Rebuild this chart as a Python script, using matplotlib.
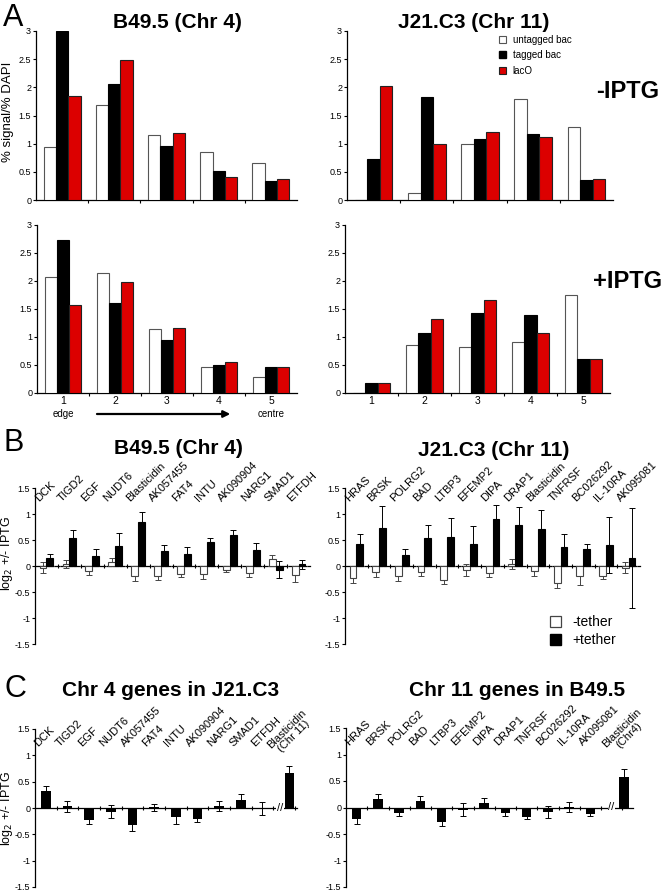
import numpy as np
import matplotlib
matplotlib.use('Agg')
import matplotlib.pyplot as plt
from matplotlib.patches import Patch

plt.rcParams['font.family'] = ['Liberation Sans', 'DejaVu Sans']

W, H = 662, 891

# ---- Panel A: % signal / % DAPI per radial zone ----
zones = ['1', '2', '3', '4', '5']
series_names = ['untagged bac', 'tagged bac', 'lacO']

b49_minus_untagged = [0.94, 1.68, 1.15, 0.86, 0.66]
b49_minus_tagged = [3.0, 2.06, 0.95, 0.51, 0.33]
b49_minus_laco = [1.85, 2.49, 1.19, 0.41, 0.37]

j21_minus_untagged = [0.0, 0.12, 1.00, 1.80, 1.29]
j21_minus_tagged = [0.72, 1.82, 1.08, 1.18, 0.35]
j21_minus_laco = [2.03, 0.99, 1.20, 1.12, 0.37]

b49_plus_untagged = [2.07, 2.15, 1.14, 0.46, 0.29]
b49_plus_tagged = [2.73, 1.60, 0.95, 0.50, 0.46]
b49_plus_laco = [1.57, 1.98, 1.16, 0.55, 0.46]

j21_plus_untagged = [0.0, 0.85, 0.83, 0.91, 1.75]
j21_plus_tagged = [0.17, 1.07, 1.43, 1.39, 0.60]
j21_plus_laco = [0.18, 1.33, 1.66, 1.07, 0.61]

# ---- Panel B: log2 +/- IPTG, -tether / +tether ----
b49_genes = ['DCK', 'TIGD2', 'EGF', 'NUDT6', 'Blasticidin', 'AK057455', 'FAT4',
             'INTU', 'AK090904', 'NARG1', 'SMAD1', 'ETFDH']
b49_no_tether = [-0.03, 0.04, -0.10, 0.08, -0.19, -0.20, -0.16, -0.15, -0.08, -0.13, 0.14, -0.18]
b49_no_tether_err = [0.10, 0.08, 0.08, 0.08, 0.10, 0.07, 0.06, 0.10, 0.04, 0.08, 0.08, 0.13]
b49_tether = [0.15, 0.54, 0.19, 0.39, 0.85, 0.29, 0.24, 0.47, 0.59, 0.30, -0.07, 0.03]
b49_tether_err = [0.09, 0.16, 0.13, 0.24, 0.19, 0.12, 0.13, 0.06, 0.10, 0.14, 0.17, 0.09]

j21_genes = ['HRAS', 'BRSK', 'POLRG2', 'BAD', 'LTBP3', 'EFEMP2', 'DIPA', 'DRAP1',
             'Blasticidin', 'TNFRSF', 'BC026292', 'IL-10RA', 'AK095081']
j21_no_tether = [-0.24, -0.11, -0.19, -0.12, -0.27, -0.08, -0.14, 0.04, -0.10, -0.32, -0.19, -0.19, -0.03]
j21_no_tether_err = [0.08, 0.11, 0.10, 0.08, 0.08, 0.12, 0.08, 0.10, 0.09, 0.11, 0.18, 0.06, 0.11]
j21_tether = [0.43, 0.73, 0.21, 0.54, 0.56, 0.42, 0.91, 0.79, 0.71, 0.37, 0.33, 0.40, 0.15]
j21_tether_err = [0.18, 0.42, 0.12, 0.24, 0.37, 0.34, 0.26, 0.35, 0.37, 0.24, 0.09, 0.54, 0.96]

# ---- Panel C: genes moved to the other cell line ----
chr4_genes = ['DCK', 'TIGD2', 'EGF', 'NUDT6', 'AK057455', 'FAT4', 'INTU',
              'AK090904', 'NARG1', 'SMAD1', 'ETFDH']
chr4_in_j21 = [0.32, 0.03, -0.22, -0.07, -0.32, 0.01, -0.17, -0.20, 0.04, 0.16, -0.01]
chr4_in_j21_err = [0.09, 0.10, 0.08, 0.12, 0.11, 0.07, 0.13, 0.07, 0.10, 0.11, 0.13]
chr4_blast_label = 'Blasticidin\n(Chr 11)'
chr4_blast = 0.66
chr4_blast_err = 0.14

chr11_genes = ['HRAS', 'BRSK', 'POLRG2', 'BAD', 'LTBP3', 'EFEMP2', 'DIPA', 'DRAP1',
               'TNFRSF', 'BC026292', 'IL-10RA', 'AK095081']
chr11_in_b49 = [-0.22, 0.16, -0.10, 0.12, -0.28, -0.04, 0.08, -0.10, -0.17, -0.08, 0.01, -0.13]
chr11_in_b49_err = [0.09, 0.09, 0.06, 0.09, 0.06, 0.12, 0.09, 0.06, 0.05, 0.11, 0.10, 0.03]
chr11_blast_label = 'Blasticidin\n(Chr4)'
chr11_blast = 0.58
chr11_blast_err = 0.14

RED = '#dc0000'
TICK_FS = 6.5
TITLE_FS = 15
GENE_FS = 8


def px_axes(fig, x0, y0, x1, y1):
    """Add axes from pixel box (top-left origin)."""
    return fig.add_axes([x0 / W, 1 - y1 / H, (x1 - x0) / W, (y1 - y0) / H])


def style_axes(ax):
    for side in ('top', 'right'):
        ax.spines[side].set_visible(False)
    for side in ('left', 'bottom'):
        ax.spines[side].set_linewidth(0.9)
    ax.tick_params(labelsize=TICK_FS, length=2.5, width=0.8, pad=1.0)


def plot_zone_bars(ax, untagged, tagged, laco, xlabels=False):
    x = np.arange(1, len(zones) + 1)
    w = 0.235
    ax.bar(x - w, untagged, w, color='white', edgecolor='#555555', linewidth=0.8, zorder=3)
    ax.bar(x, tagged, w, color='black', edgecolor='black', linewidth=0.8, zorder=3)
    ax.bar(x + w, laco, w, color=RED, edgecolor='#222222', linewidth=0.8, zorder=3)
    ax.set_xlim(0.5, 5.5)
    ax.set_ylim(0, 3)
    ax.set_yticks(np.arange(0, 3.01, 0.5))
    ax.set_yticklabels(['0', '0.5', '1', '1.5', '2', '2.5', '3'])
    style_axes(ax)
    ax.set_xticks(np.arange(1.5, 5.0, 1.0))
    ax.set_xticklabels([])
    if xlabels:
        ax.set_xticks(x, minor=True)
        ax.set_xticklabels(zones, minor=True)
        ax.tick_params(axis='x', which='minor', length=0, labelsize=TICK_FS + 1, pad=2)


def plot_tether_bars(ax, genes, no_tether, no_err, tether, t_err):
    x = np.arange(len(genes)) + 0.5
    w = 0.3
    ax.errorbar(x - w / 2, no_tether, yerr=no_err, fmt='none', ecolor='#444444',
                elinewidth=0.7, capsize=2, capthick=0.7, zorder=2)
    ax.errorbar(x + w / 2, tether, yerr=t_err, fmt='none', ecolor='black',
                elinewidth=0.7, capsize=2, capthick=0.7, zorder=2)
    ax.bar(x - w / 2, no_tether, w, color='white', edgecolor='#444444', linewidth=0.8, zorder=3)
    ax.bar(x + w / 2, tether, w, color='black', edgecolor='black', linewidth=0.8, zorder=3)
    ax.set_xlim(0, len(genes))
    for xi, g in zip(x, genes):
        ax.text(xi - 0.27, 1.2, g, rotation=45, rotation_mode='anchor',
                ha='left', va='bottom', fontsize=GENE_FS, clip_on=False)
    log_axes(ax)
    ax.spines['bottom'].set_linestyle((0, (4, 1.2)))


def plot_moved_bars(ax, genes, vals, errs, blast_label, blast, blast_err, gap, xmax):
    x = np.arange(len(genes)) + 0.5
    bx = len(genes) + gap
    w = 0.45
    ax.errorbar(x, vals, yerr=errs, fmt='none', ecolor='black',
                elinewidth=0.7, capsize=2, capthick=0.7, zorder=2)
    ax.errorbar([bx], [blast], yerr=[blast_err], fmt='none', ecolor='black',
                elinewidth=0.7, capsize=2, capthick=0.7, zorder=2)
    ax.bar(x, vals, w, color='black', zorder=3)
    ax.bar([bx], [blast], w, color='black', zorder=3)
    ax.set_xlim(0, xmax)
    for xi, g in zip(x, genes):
        ax.text(xi - 0.28, 1.14, g, rotation=45, rotation_mode='anchor',
                ha='left', va='bottom', fontsize=GENE_FS, clip_on=False)
    ax.text(bx - 0.45, 0.96, blast_label, rotation=45, rotation_mode='anchor',
            ha='left', va='bottom', fontsize=GENE_FS, multialignment='center',
            linespacing=1.0, clip_on=False)
    # axis break marker
    ax.text((len(genes) + bx) / 2 - 0.05, 0, '//', ha='center', va='center', fontsize=8,
            bbox=dict(facecolor='white', edgecolor='none', pad=0.5), zorder=4)
    log_axes(ax)


def log_axes(ax):
    ax.set_ylim(-1.5, 1.5)
    ax.set_yticks(np.arange(-1.5, 1.51, 0.5))
    ax.set_yticklabels(['-1.5', '-1', '-0.5', '0', '0.5', '1', '1.5'])
    style_axes(ax)
    ax.spines['bottom'].set_position(('data', 0))
    ax.set_xticks(np.arange(1, ax.get_xlim()[1], 1.0))
    ax.set_xticklabels([])
    ax.tick_params(axis='x', direction='inout', length=3)


fig = plt.figure(figsize=(W / 100, H / 100), dpi=100)

# Panel A
ax = px_axes(fig, 36, 31, 297, 200)
plot_zone_bars(ax, b49_minus_untagged, b49_minus_tagged, b49_minus_laco)

ax = px_axes(fig, 347, 31, 613, 200)
plot_zone_bars(ax, j21_minus_untagged, j21_minus_tagged, j21_minus_laco)
handles = [Patch(facecolor='white', edgecolor='#555555', linewidth=0.8),
           Patch(facecolor='black', edgecolor='black'),
           Patch(facecolor=RED, edgecolor='#222222', linewidth=0.8)]
ax.legend(handles, series_names, loc='upper left', bbox_to_anchor=(0.555, 1.0),
          frameon=False, fontsize=7, handlelength=0.75, handleheight=0.75,
          handletextpad=0.7, labelspacing=0.55, borderaxespad=0)

ax = px_axes(fig, 37, 225, 297, 393)
plot_zone_bars(ax, b49_plus_untagged, b49_plus_tagged, b49_plus_laco, xlabels=True)
tr = ax.get_xaxis_transform()
ax.text(1, -0.125, 'edge', transform=tr, ha='center', va='center', fontsize=7)
ax.text(5, -0.125, 'centre', transform=tr, ha='center', va='center', fontsize=7)
ax.annotate('', xy=(4.27, -0.125), xytext=(1.6, -0.125), xycoords=tr, textcoords=tr,
            arrowprops=dict(arrowstyle='-|>', color='black', lw=1.6, mutation_scale=10),
            annotation_clip=False)

ax = px_axes(fig, 345, 225, 610, 393)
plot_zone_bars(ax, j21_plus_untagged, j21_plus_tagged, j21_plus_laco, xlabels=True)

fig.text(3 / W, 1 - 18 / H, 'A', fontsize=22, ha='left', va='center')
fig.text(177 / W, 1 - 22 / H, 'B49.5 (Chr 4)', fontsize=TITLE_FS, fontweight='bold', ha='center', va='center')
fig.text(474 / W, 1 - 22 / H, 'J21.C3 (Chr 11)', fontsize=TITLE_FS, fontweight='bold', ha='center', va='center')
fig.text(628 / W, 1 - 91 / H, '-IPTG', fontsize=17, fontweight='bold', ha='center', va='center')
fig.text(628 / W, 1 - 282 / H, '+IPTG', fontsize=17, fontweight='bold', ha='center', va='center')
fig.text(8 / W, 1 - 112 / H, '% signal/% DAPI', fontsize=9.5, rotation=90, ha='center', va='center')

# Panel B
ax = px_axes(fig, 35, 488, 310, 644)
plot_tether_bars(ax, b49_genes, b49_no_tether, b49_no_tether_err, b49_tether, b49_tether_err)

ax = px_axes(fig, 345, 488, 640, 644)
plot_tether_bars(ax, j21_genes, j21_no_tether, j21_no_tether_err, j21_tether, j21_tether_err)
handles = [Patch(facecolor='white', edgecolor='#444444', linewidth=0.9),
           Patch(facecolor='black', edgecolor='black')]
ax.legend(handles, ['-tether', '+tether'], loc='upper left', bbox_to_anchor=(0.675, 0.22),
          frameon=False, fontsize=10, handlelength=0.8, handleheight=0.9,
          handletextpad=0.8, labelspacing=0.3, borderaxespad=0)

fig.text(4 / W, 1 - 443 / H, 'B', fontsize=22, ha='left', va='center')
fig.text(178 / W, 1 - 448 / H, 'B49.5 (Chr 4)', fontsize=TITLE_FS, fontweight='bold', ha='center', va='center')
fig.text(494 / W, 1 - 451 / H, 'J21.C3 (Chr 11)', fontsize=TITLE_FS, fontweight='bold', ha='center', va='center')
fig.text(7.5 / W, 1 - 554 / H, 'log$_2$ +/- IPTG', fontsize=9, rotation=90, ha='center', va='center')

# Panel C
ax = px_axes(fig, 35, 729, 297, 887)
plot_moved_bars(ax, chr4_genes, chr4_in_j21, chr4_in_j21_err,
                chr4_blast_label, chr4_blast, chr4_blast_err, gap=0.75, xmax=12.1)

ax = px_axes(fig, 346, 728, 633, 887)
plot_moved_bars(ax, chr11_genes, chr11_in_b49, chr11_in_b49_err,
                chr11_blast_label, chr11_blast, chr11_blast_err, gap=1.08, xmax=13.5)

fig.text(5 / W, 1 - 689 / H, 'C', fontsize=22, ha='left', va='center')
fig.text(171 / W, 1 - 690 / H, 'Chr 4 genes in J21.C3', fontsize=TITLE_FS, fontweight='bold', ha='center', va='center')
fig.text(517 / W, 1 - 690 / H, 'Chr 11 genes in B49.5', fontsize=TITLE_FS, fontweight='bold', ha='center', va='center')
fig.text(7.5 / W, 1 - 809 / H, 'log$_2$ +/- IPTG', fontsize=9, rotation=90, ha='center', va='center')

plt.savefig('out.png', dpi=100)
print("Saved out.png")
